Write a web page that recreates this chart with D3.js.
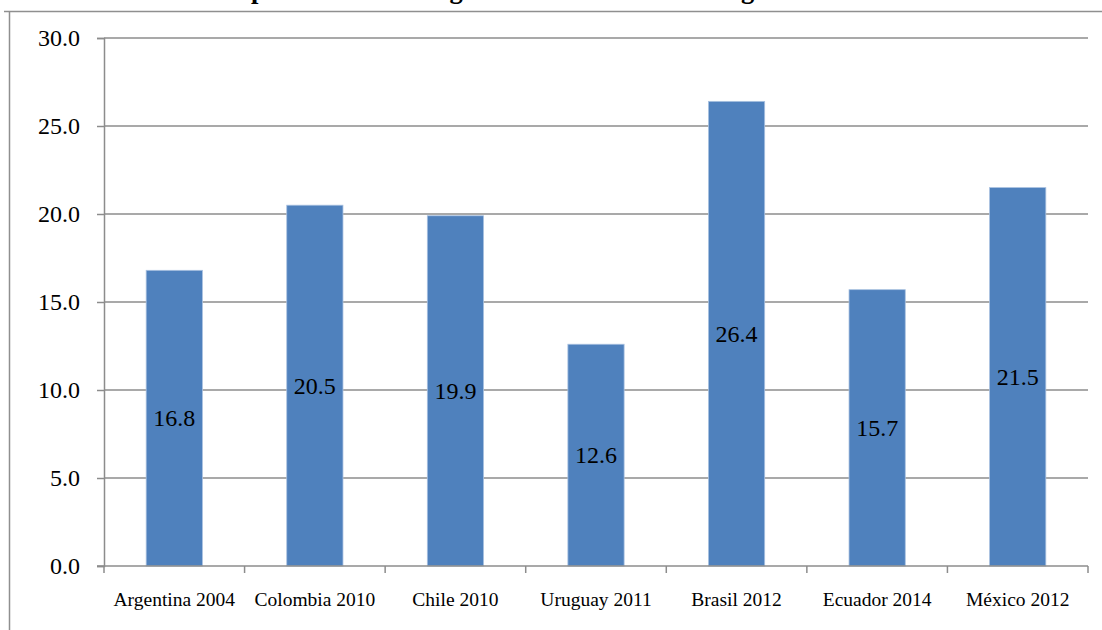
<!DOCTYPE html>
<html>
<head>
<meta charset="utf-8">
<script src="https://cdn.jsdelivr.net/npm/d3@7"></script>
<style>
  html, body { margin: 0; padding: 0; background: #fff; }
  svg { display: block; }
</style>
</head>
<body>
<svg id="chart" width="1102" height="630"></svg>
<script>
// Survey / year for each bar
const categories = ["Argentina 2004", "Colombia 2010", "Chile 2010", "Uruguay 2011",
                    "Brasil 2012", "Ecuador 2014", "México 2012"];
const values = [16.8, 20.5, 19.9, 12.6, 26.4, 15.7, 21.5];
const yTicks = [0, 5, 10, 15, 20, 25, 30];
const titleText = "Tiempo dedicado al hogar en horas semanales según encuesta";

const W = 1102, H = 630;
const plot = { left: 104, right: 1088, top: 38, bottom: 566 };
const serif = "Liberation Serif, Times New Roman, serif";
const gridColor = "#8c8c8c";
const barColor = "#4f81bd";

const svg = d3.select("#chart");

// outer frame of the chart area (top and left edges visible)
svg.append("path")
  .attr("d", `M4,11.5H${W}M9.5,11.5V${H}`)
  .attr("fill", "none")
  .attr("stroke", "#8f8f8f")
  .attr("stroke-width", 1.5);

// title: sits above the top edge, only its descenders reach into view
const title = svg.append("text")
  .attr("y", -2.5)
  .attr("font-family", serif)
  .attr("font-weight", "bold")
  .attr("font-size", 30)
  .attr("fill", "#000")
  .text(titleText);
const tNode = title.node();
const pIdx = titleText.indexOf("p");
const gIdx = titleText.lastIndexOf("g");
const pOff = tNode.getSubStringLength(0, pIdx);
const gOff = tNode.getSubStringLength(0, gIdx);
const fs = 30 * (741 - 251) / (gOff - pOff);
title.attr("font-size", fs);
title.attr("x", 251 - tNode.getSubStringLength(0, pIdx));

const x = d3.scaleBand()
  .domain(categories)
  .range([plot.left, plot.right])
  .paddingInner(0.6)
  .paddingOuter(0.3);

const y = d3.scaleLinear()
  .domain([0, 30])
  .range([plot.bottom, plot.top]);

// horizontal gridlines
svg.append("g")
  .selectAll("line")
  .data(yTicks.filter(d => d > 0))
  .join("line")
  .attr("x1", plot.left)
  .attr("x2", plot.right)
  .attr("y1", d => y(d))
  .attr("y2", d => y(d))
  .attr("stroke", gridColor)
  .attr("stroke-width", 1.5);

// bars
svg.append("g")
  .selectAll("rect")
  .data(values)
  .join("rect")
  .attr("x", (d, i) => x(categories[i]))
  .attr("y", d => y(d))
  .attr("width", x.bandwidth())
  .attr("height", d => y(0) - y(d))
  .attr("fill", barColor)
  .attr("stroke", "#a9c1e0")
  .attr("stroke-width", 0.8);

// value labels centred in each bar
svg.append("g")
  .selectAll("text")
  .data(values)
  .join("text")
  .attr("x", (d, i) => x(categories[i]) + x.bandwidth() / 2)
  .attr("y", d => (y(d) + y(0)) / 2 + 8)
  .attr("text-anchor", "middle")
  .attr("font-family", serif)
  .attr("font-size", 24)
  .attr("fill", "#000")
  .text(d => d.toFixed(1));

// y axis
const yAxis = d3.axisLeft(y)
  .tickValues(yTicks)
  .tickSize(7)
  .tickPadding(17)
  .tickFormat(d3.format(".1f"));
const gy = svg.append("g")
  .attr("transform", `translate(${plot.left},0)`)
  .call(yAxis);
gy.select(".domain").attr("stroke", gridColor).attr("stroke-width", 1.5);
gy.selectAll(".tick line").attr("stroke", gridColor).attr("stroke-width", 1.5);
gy.selectAll(".tick text")
  .attr("font-family", serif)
  .attr("font-size", 24)
  .attr("fill", "#000");

// x axis with ticks at category boundaries
const xAxis = d3.axisBottom(x).tickSize(0).tickPadding(26);
const gx = svg.append("g")
  .attr("transform", `translate(0,${plot.bottom})`)
  .call(xAxis);
gx.select(".domain").remove();
gx.selectAll(".tick text")
  .attr("font-family", serif)
  .attr("font-size", 19.5)
  .attr("fill", "#000");
gx.append("line")
  .attr("x1", plot.left - 7)
  .attr("x2", plot.right)
  .attr("stroke", gridColor)
  .attr("stroke-width", 1.5);
const step = x.step();
const bounds = categories.map((c, i) => x(c) - x.paddingInner() * step / 2).concat([plot.right]);
gx.selectAll(".bound")
  .data(bounds)
  .join("line")
  .attr("class", "bound")
  .attr("x1", d => d)
  .attr("x2", d => d)
  .attr("y1", 0)
  .attr("y2", 7)
  .attr("stroke", gridColor)
  .attr("stroke-width", 1.5);
</script>
</body>
</html>
